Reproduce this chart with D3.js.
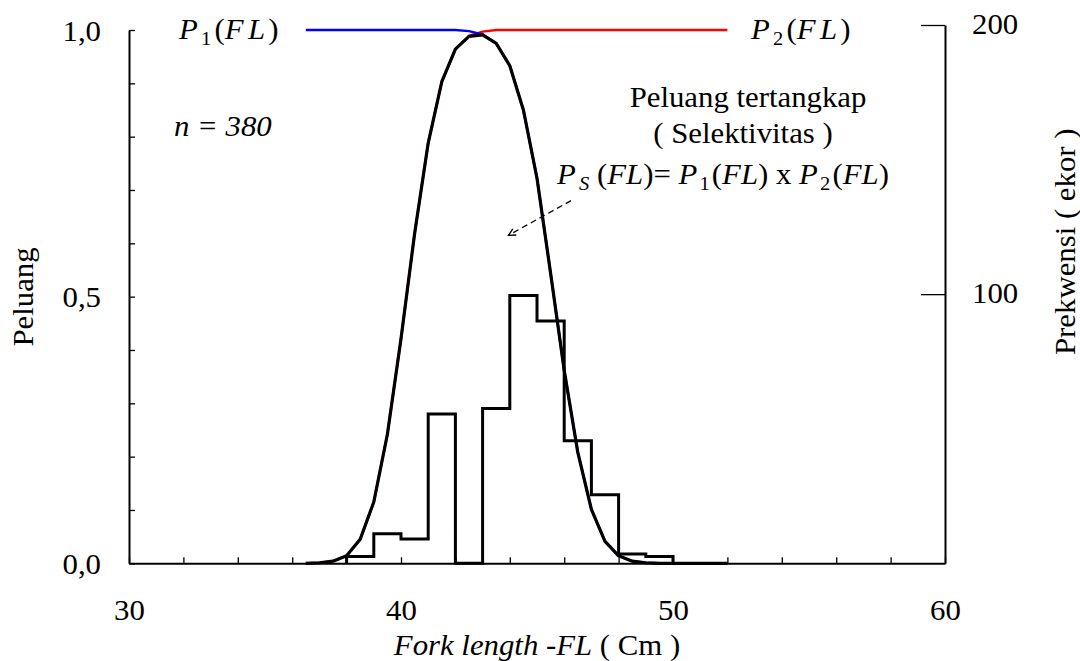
<!DOCTYPE html>
<meta charset="utf-8">
<title>Selektivitas</title>
<style>
  body { margin: 0; background: #fff; }
  svg { display: block; font-family: "Liberation Serif", "Times New Roman", serif; }
  .axis path, .axis line { stroke: #000; }
</style>
<body>
<svg width="1080" height="661"></svg>
<script src="https://d3js.org/d3.v7.min.js"></script>
<script>
  // fork length points of the fitted curves (cm)
  var fl = [36.5, 37, 37.5, 38, 38.5, 39, 39.5, 40, 40.5, 41, 41.5, 42, 42.5, 43, 43.5, 44,
            44.5, 45, 45.5, 46, 46.5, 47, 47.5, 48, 48.5, 49, 49.5, 50, 50.5, 51, 51.5, 52];
  // P1(FL), blue
  var p1 = [1, 1, 1, 1, 1, 1, 1, 1, 1, 1, 1, 1, 0.998, 0.992, 0.975, 0.933,
            0.85, 0.722, 0.544, 0.362, 0.208, 0.101, 0.041, 0.014, 0.004, 0.001, 0, 0, 0, 0, 0, 0];
  // P2(FL), red
  var p2 = [0, 0.001, 0.004, 0.014, 0.045, 0.115, 0.242, 0.421, 0.618, 0.788, 0.903, 0.964, 0.989, 0.997, 1, 1,
            1, 1, 1, 1, 1, 1, 1, 1, 1, 1, 1, 1, 1, 1, 1, 1];
  // Ps(FL) = P1 x P2, black
  var ps = [0, 0.001, 0.004, 0.014, 0.045, 0.115, 0.242, 0.421, 0.618, 0.788, 0.903, 0.964, 0.988, 0.991, 0.975, 0.933,
            0.85, 0.722, 0.544, 0.362, 0.208, 0.101, 0.041, 0.014, 0.004, 0.001, 0, 0, 0, 0, 0, 0];

  // histogram (ekor) per 1 cm class
  var binStart = [38, 39, 40, 41, 42, 43, 44, 45, 46, 47, 48, 49];
  var freq = [2.5, 11, 9, 55.5, 0, 57.5, 99.5, 90, 45.5, 25.5, 3.5, 2.5];

  var xTicks = [30, 32, 34, 36, 38, 40, 42, 44, 46, 48, 50, 52, 54, 56, 58, 60];
  var yTicks = [0, 0.1, 0.2, 0.3, 0.4, 0.5, 0.6, 0.7, 0.8, 0.9, 1];
  var y2Ticks = [100, 200];

  var svg = d3.select("svg");
  var FS = 28.5, SX = 1.08;   // glyphs in the original are a little wider than Times

  var x = d3.scaleLinear().domain([30, 60]).range([129, 945]);
  var y = d3.scaleLinear().domain([0, 1]).range([563.3, 30]);
  var y2 = d3.scaleLinear().domain([0, 200]).range([563.3, 25]);

  function stretch(g) {
    g.selectAll("text").each(function () {
      var t = d3.select(this);
      if (t.attr("x") != null) t.attr("x", +t.attr("x") / SX);
      t.attr("transform", "scale(" + SX + ",1)");
    });
  }

  // axes
  var gx = svg.append("g").attr("class", "axis")
    .attr("transform", "translate(0," + y(0) + ")")
    .call(d3.axisBottom(x).tickValues(xTicks).tickSize(-6).tickSizeOuter(0).tickPadding(36)
      .tickFormat(function (d) { return d % 10 === 0 ? d : ""; }));
  var gy = svg.append("g").attr("class", "axis")
    .attr("transform", "translate(" + x(30) + ",0)")
    .call(d3.axisLeft(y).tickValues(yTicks).tickSize(-6).tickSizeOuter(0).tickPadding(28)
      .tickFormat(function (d) {
        var r = Math.round(d * 10);
        return (r === 0 || r === 5 || r === 10) ? d3.format(".1f")(d).replace(".", ",") : "";
      }));
  var gy2 = svg.append("g").attr("class", "axis")
    .attr("transform", "translate(" + x(60) + ",0)")
    .call(d3.axisRight(y2).tickValues(y2Ticks).tickSize(-24).tickSizeOuter(0).tickPadding(27));

  [gx, gy, gy2].forEach(function (g) {
    g.attr("font-size", FS).attr("font-family", "Liberation Serif, serif");
    g.select(".domain").attr("stroke-width", 2);
    g.selectAll(".tick line").attr("stroke-width", 1.3);
    g.selectAll("text").attr("fill", "#000");
    stretch(g);
  });
  gy.selectAll("text").attr("dy", "0.36em");
  gy2.selectAll("text").attr("dy", "0.3em");

  // curves
  var idx = d3.range(fl.length);
  function curve(vals) {
    return d3.line().x(function (i) { return x(fl[i]); }).y(function (i) { return y(vals[i]); })(idx);
  }
  svg.append("path").attr("d", curve(p2)).attr("fill", "none").attr("stroke", "#ff0000").attr("stroke-width", 2.4);
  svg.append("path").attr("d", curve(p1)).attr("fill", "none").attr("stroke", "#0000ff").attr("stroke-width", 2.4);
  svg.append("path").attr("d", curve(ps)).attr("fill", "none").attr("stroke", "#000").attr("stroke-width", 3.2)
    .attr("stroke-linejoin", "round");

  // histogram outline
  var steps = [[binStart[0], 0]];
  binStart.forEach(function (b, i) { steps.push([b, freq[i]]); });
  steps.push([binStart[binStart.length - 1] + 1, freq[freq.length - 1]]);
  steps.push([binStart[binStart.length - 1] + 1, 0]);
  svg.append("path")
    .attr("d", d3.line().curve(d3.curveStepAfter)
      .x(function (d) { return x(d[0]); }).y(function (d) { return y2(d[1]); })(steps))
    .attr("fill", "none").attr("stroke", "#000").attr("stroke-width", 3).attr("stroke-linejoin", "miter");

  // text helper: parts are [string, style, dx] with style i / n / sub / subi
  function label(px, py, anchor, rot, parts) {
    var t = svg.append("text")
      .attr("transform", "translate(" + px + "," + py + ") rotate(" + (rot || 0) + ") scale(" + SX + ",1)")
      .attr("text-anchor", anchor).attr("font-size", FS).attr("fill", "#000");
    var shifted = false;
    parts.forEach(function (p) {
      var s = t.append("tspan").text(p[0]);
      var st = p[1] || "n";
      if (st === "sub" || st === "subi") {
        s.attr("font-size", 19).attr("dy", 6);
        if (st === "subi") s.attr("font-style", "italic");
        shifted = true;
      } else {
        if (shifted) { s.attr("dy", -6); shifted = false; }
        if (st === "i") s.attr("font-style", "italic");
      }
      if (p[2]) s.attr("dx", p[2]);
    });
    return t;
  }

  label(179, 39, "start", 0, [["P", "i"], ["1", "sub", 3], ["(", "n", 3], ["F", "i"], ["L", "i", 4], [")", "n", 3]]);
  label(751, 39, "start", 0, [["P", "i"], ["2", "sub", 3], ["(", "n", 3], ["F", "i"], ["L", "i", 4], [")", "n", 3]]);
  label(174, 136, "start", 0, [["n = 380", "i"]]);
  label(748, 107, "middle", 0, [["Peluang tertangkap"]]);
  label(743, 143, "middle", 0, [["( Selektivitas )"]]);
  label(557, 184, "start", 0, [["P", "i"], ["S", "subi", 3], [" (", "n"], ["FL", "i"], [")= ", "n"], ["P", "i"],
    ["1", "sub", 2], ["(", "n", 2], ["FL", "i"], [") x ", "n"], ["P", "i"], ["2", "sub", 2], ["(", "n", 2], ["FL", "i"], [")", "n"]]);
  label(x(45), 655, "middle", 0, [["Fork length -FL", "i"], [" ( Cm )", "n"]]);
  label(33, 297, "middle", -90, [["Peluang"]]);
  label(1075, 355, "start", -90, [["Prekwensi ( ekor )"]]);

  // dashed pointer to Ps curve
  var arrowFrom = [46.25, 0.68], arrowTo = [43.95, 0.615];
  svg.append("defs").append("marker")
    .attr("id", "head").attr("viewBox", "-8 -5 10 10").attr("markerWidth", 10).attr("markerHeight", 10)
    .attr("orient", "auto").attr("markerUnits", "userSpaceOnUse")
    .append("path").attr("d", "M-7,-3.5L0,0L-7,3.5").attr("fill", "none").attr("stroke", "#000").attr("stroke-width", 1.3);
  svg.append("line")
    .attr("x1", x(arrowFrom[0])).attr("y1", y(arrowFrom[1]))
    .attr("x2", x(arrowTo[0])).attr("y2", y(arrowTo[1]))
    .attr("stroke", "#000").attr("stroke-width", 1.3).attr("stroke-dasharray", "6,4")
    .attr("marker-end", "url(#head)");
</script>
</body>
